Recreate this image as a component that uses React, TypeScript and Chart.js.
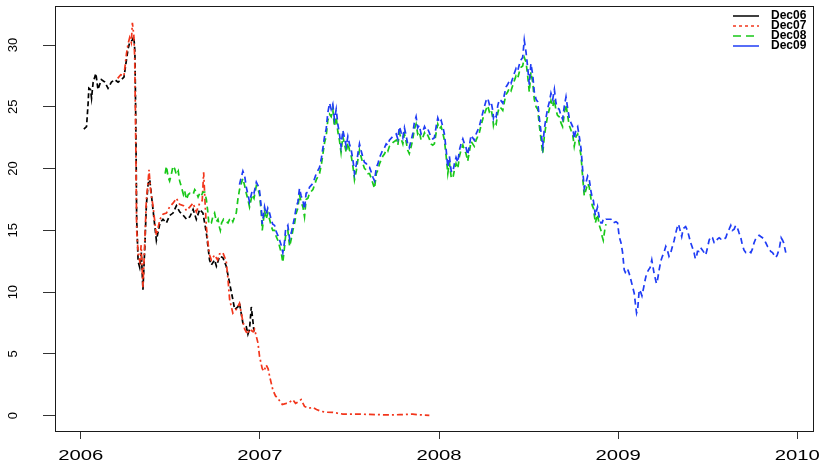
import React, { useEffect, useRef } from 'react';
import { Chart, registerables } from 'chart.js';

Chart.register(...registerables);

// [decimal year, price]
const dec06: number[][] = [
  [2006.017,23.2],[2006.032,23.4],[2006.041,25.3],[2006.045,26.5],[2006.054,26.4],[2006.060,25.7],[2006.069,27.0],[2006.084,27.7],[2006.096,26.4],[2006.115,27.2],[2006.134,27.0],[2006.152,26.5],[2006.171,27.0],[2006.190,27.2],[2006.208,27.0],[2006.227,27.2],[2006.241,27.4],[2006.255,28.8],[2006.264,29.7],[2006.273,30.2],[2006.288,30.4],[2006.296,30.7],[2006.302,29.5],[2006.307,24.0],[2006.312,16.0],[2006.320,12.5],[2006.329,12.0],[2006.338,13.2],[2006.347,10.2],[2006.357,13.5],[2006.366,17.0],[2006.376,18.8],[2006.385,19.1],[2006.403,16.7],[2006.422,14.2],[2006.442,15.6],[2006.459,15.9],[2006.478,15.6],[2006.496,16.2],[2006.515,16.4],[2006.534,17.0],[2006.552,16.5],[2006.573,16.2],[2006.590,15.9],[2006.609,16.1],[2006.627,16.7],[2006.645,15.9],[2006.664,16.7],[2006.682,16.4],[2006.701,14.8],[2006.710,13.7],[2006.719,12.6],[2006.729,12.2],[2006.747,12.6],[2006.757,12.1],[2006.775,12.9],[2006.793,12.8],[2006.812,12.1],[2006.831,10.7],[2006.849,9.4],[2006.859,8.6],[2006.877,8.8],[2006.886,9.1],[2006.905,7.5],[2006.924,7.2],[2006.933,6.6],[2006.942,7.0],[2006.952,8.8],[2006.962,7.5],[2006.967,6.8]
];

const dec07: number[][] = [
  [2006.206,27.3],[2006.223,27.6],[2006.241,27.5],[2006.255,29.3],[2006.264,30.1],[2006.273,30.6],[2006.282,30.2],[2006.288,31.8],[2006.296,30.8],[2006.301,29.0],[2006.307,22.0],[2006.312,15.0],[2006.321,13.0],[2006.329,12.5],[2006.337,13.8],[2006.347,10.4],[2006.357,14.0],[2006.366,17.5],[2006.373,18.5],[2006.381,19.9],[2006.390,18.2],[2006.403,17.0],[2006.422,14.6],[2006.442,15.9],[2006.459,16.3],[2006.478,16.4],[2006.496,16.9],[2006.515,17.2],[2006.534,17.6],[2006.552,17.1],[2006.573,17.0],[2006.590,16.6],[2006.609,16.9],[2006.627,17.2],[2006.645,16.5],[2006.664,17.2],[2006.678,17.4],[2006.686,19.7],[2006.694,17.2],[2006.701,15.3],[2006.710,14.0],[2006.719,13.0],[2006.729,12.6],[2006.747,13.0],[2006.764,12.6],[2006.775,13.1],[2006.793,13.2],[2006.812,12.5],[2006.822,11.0],[2006.831,9.4],[2006.849,8.3],[2006.868,8.6],[2006.886,9.1],[2006.905,7.6],[2006.915,7.0],[2006.931,6.6],[2006.942,7.0],[2006.962,6.8],[2006.970,7.0],[2006.989,5.9],[2006.998,4.8],[2007.013,3.8],[2007.023,3.6],[2007.035,4.1],[2007.046,3.8],[2007.054,3.2],[2007.072,2.1],[2007.087,1.6],[2007.100,1.4],[2007.125,0.9],[2007.147,1.0],[2007.166,1.1],[2007.184,1.3],[2007.199,1.0],[2007.211,1.1],[2007.230,1.3],[2007.249,0.75],[2007.271,0.6],[2007.296,0.67],[2007.316,0.5],[2007.342,0.35],[2007.372,0.28],[2007.407,0.27],[2007.433,0.2],[2007.463,0.13],[2007.500,0.12],[2007.556,0.13],[2007.612,0.1],[2007.668,0.08],[2007.723,0.06],[2007.779,0.08],[2007.818,0.1],[2007.853,0.13],[2007.891,0.07],[2007.946,0.03]
];

const dec08: number[][] = [
  [2006.471,19.6],[2006.478,20.2],[2006.488,19.3],[2006.496,19.0],[2006.505,19.5],[2006.515,20.2],[2006.524,20.0],[2006.534,19.5],[2006.544,19.8],[2006.552,19.0],[2006.562,18.5],[2006.573,17.9],[2006.580,18.2],[2006.590,17.5],[2006.600,17.9],[2006.609,18.0],[2006.627,17.9],[2006.636,18.3],[2006.645,18.1],[2006.655,17.7],[2006.664,18.0],[2006.673,17.8],[2006.682,18.1],[2006.692,18.1],[2006.701,17.5],[2006.710,16.4],[2006.715,15.5],[2006.729,15.6],[2006.737,16.1],[2006.747,16.4],[2006.757,15.7],[2006.766,15.9],[2006.775,15.2],[2006.779,15.0],[2006.786,15.6],[2006.797,15.9],[2006.812,15.7],[2006.822,15.6],[2006.831,15.9],[2006.840,16.0],[2006.849,15.7],[2006.859,16.1],[2006.868,16.4],[2006.877,17.5],[2006.886,18.3],[2006.896,18.8],[2006.905,19.2],[2006.915,18.6],[2006.924,18.0],[2006.933,17.5],[2006.942,16.9],[2006.957,17.9],[2006.967,17.6],[2006.980,18.6],[2006.990,18.3],[2006.998,17.9],
  [2007.008,16.4],[2007.013,15.0],[2007.026,16.6],[2007.035,15.9],[2007.044,16.4],[2007.054,15.9],[2007.064,15.3],[2007.072,15.0],[2007.082,15.0],[2007.091,14.5],[2007.100,14.2],[2007.110,13.7],[2007.119,13.2],[2007.128,12.4],[2007.137,13.6],[2007.143,14.5],[2007.156,15.0],[2007.166,13.7],[2007.175,14.3],[2007.184,15.0],[2007.194,15.6],[2007.203,16.4],[2007.212,16.8],[2007.221,17.9],[2007.230,17.3],[2007.240,16.9],[2007.249,16.1],[2007.258,17.5],[2007.268,17.6],[2007.277,18.0],[2007.296,18.3],[2007.315,19.1],[2007.333,19.6],[2007.344,20.4],[2007.361,22.1],[2007.370,22.6],[2007.379,23.9],[2007.389,24.4],[2007.398,24.2],[2007.407,24.8],[2007.416,23.4],[2007.426,24.2],[2007.435,23.0],[2007.444,22.3],[2007.453,21.3],[2007.463,22.6],[2007.472,22.0],[2007.482,21.3],[2007.491,22.1],[2007.500,21.5],[2007.510,21.0],[2007.517,20.4],[2007.522,19.9],[2007.528,19.1],[2007.538,19.8],[2007.547,20.7],[2007.556,21.5],[2007.566,20.9],[2007.575,20.4],[2007.584,20.0],[2007.594,19.9],[2007.603,19.6],[2007.612,19.6],[2007.622,19.2],[2007.631,18.8],[2007.640,18.4],[2007.650,19.6],[2007.659,19.9],[2007.668,20.4],[2007.677,20.7],[2007.686,21.0],[2007.696,21.2],[2007.705,21.5],[2007.714,21.4],[2007.723,21.8],[2007.742,22.1],[2007.761,22.3],[2007.770,21.9],[2007.779,22.9],[2007.789,22.4],[2007.798,22.0],[2007.807,22.8],[2007.816,22.2],[2007.825,21.5],[2007.834,21.2],[2007.843,21.7],[2007.853,22.3],[2007.862,23.2],[2007.872,23.6],[2007.881,22.8],[2007.890,23.0],[2007.900,22.3],[2007.909,22.5],[2007.919,22.9],[2007.928,22.6],[2007.937,22.7],[2007.946,22.4],[2007.956,22.0],[2007.965,21.9],[2007.974,22.0],[2007.984,22.9],[2007.993,23.6],
  [2008.002,23.2],[2008.012,23.4],[2008.021,22.9],[2008.030,22.3],[2008.040,21.0],[2008.049,19.6],[2008.058,20.5],[2008.068,19.3],[2008.077,19.2],[2008.086,19.9],[2008.095,20.4],[2008.105,20.0],[2008.114,21.0],[2008.123,21.5],[2008.133,21.9],[2008.142,21.5],[2008.151,21.2],[2008.160,20.6],[2008.170,21.4],[2008.179,22.2],[2008.188,22.0],[2008.197,21.8],[2008.207,22.3],[2008.216,22.6],[2008.225,22.9],[2008.235,23.5],[2008.244,24.0],[2008.253,24.4],[2008.263,24.8],[2008.272,25.1],[2008.281,24.6],[2008.291,24.8],[2008.300,24.1],[2008.304,23.5],[2008.309,23.8],[2008.319,23.6],[2008.328,24.5],[2008.337,25.0],[2008.346,24.9],[2008.356,24.7],[2008.365,25.4],[2008.374,26.0],[2008.383,26.2],[2008.393,26.5],[2008.402,26.3],[2008.411,26.7],[2008.420,27.1],[2008.430,27.5],[2008.439,27.3],[2008.448,27.8],[2008.458,28.2],[2008.467,28.3],[2008.476,29.0],[2008.486,28.6],[2008.495,27.5],[2008.504,26.2],[2008.513,27.8],[2008.523,27.0],[2008.532,25.6],[2008.542,25.0],[2008.551,24.8],[2008.560,23.5],[2008.570,22.3],[2008.579,21.2],[2008.588,22.6],[2008.597,23.5],[2008.607,24.3],[2008.616,24.8],[2008.625,25.5],[2008.635,25.0],[2008.644,25.6],[2008.653,24.7],[2008.662,24.3],[2008.671,24.2],[2008.681,23.7],[2008.690,23.4],[2008.700,24.5],[2008.709,25.2],[2008.718,24.3],[2008.727,23.5],[2008.737,23.1],[2008.746,22.8],[2008.755,21.8],[2008.765,22.6],[2008.774,22.8],[2008.783,22.0],[2008.793,21.0],[2008.802,19.3],[2008.811,17.8],[2008.821,18.3],[2008.830,18.8],[2008.839,18.5],[2008.848,17.6],[2008.856,17.0],[2008.862,16.8],[2008.873,15.6],[2008.885,16.3],[2008.895,15.4],[2008.904,15.0],[2008.911,14.5],[2008.917,14.2],[2008.925,15.0],[2008.932,15.5]
];

const dec09: number[][] = [
  [2006.886,18.7],[2006.896,19.3],[2006.905,19.8],[2006.915,19.4],[2006.924,18.5],[2006.933,17.9],[2006.942,17.3],[2006.957,18.2],[2006.967,18.0],[2006.980,18.9],[2006.990,18.6],[2006.998,18.2],
  [2007.008,16.8],[2007.013,15.5],[2007.026,16.9],[2007.035,16.3],[2007.044,16.8],[2007.054,16.4],[2007.064,15.8],[2007.072,15.5],[2007.082,15.4],[2007.091,14.9],[2007.100,14.6],[2007.110,14.2],[2007.119,13.8],[2007.128,13.2],[2007.137,14.0],[2007.143,15.0],[2007.156,15.4],[2007.166,14.3],[2007.175,14.8],[2007.184,15.4],[2007.194,16.1],[2007.203,16.9],[2007.212,17.3],[2007.221,18.4],[2007.230,17.8],[2007.240,17.4],[2007.249,16.7],[2007.258,18.0],[2007.268,18.1],[2007.277,18.5],[2007.296,18.8],[2007.315,19.6],[2007.333,20.1],[2007.344,20.9],[2007.361,22.6],[2007.370,23.2],[2007.379,24.5],[2007.389,25.3],[2007.398,24.8],[2007.407,25.2],[2007.416,24.0],[2007.426,24.8],[2007.435,23.6],[2007.444,22.8],[2007.453,21.8],[2007.463,23.1],[2007.472,22.5],[2007.482,21.8],[2007.491,22.6],[2007.500,22.0],[2007.510,21.5],[2007.517,20.9],[2007.522,20.4],[2007.528,19.6],[2007.538,20.3],[2007.547,21.2],[2007.556,22.0],[2007.566,21.4],[2007.575,20.9],[2007.584,20.5],[2007.594,20.4],[2007.603,20.1],[2007.612,20.1],[2007.622,19.7],[2007.631,19.3],[2007.640,19.0],[2007.650,20.1],[2007.659,20.4],[2007.668,20.9],[2007.677,21.2],[2007.686,21.5],[2007.696,21.7],[2007.705,22.0],[2007.714,21.9],[2007.723,22.3],[2007.742,22.6],[2007.761,22.8],[2007.770,22.4],[2007.779,23.4],[2007.789,22.9],[2007.798,22.5],[2007.807,23.3],[2007.816,22.7],[2007.825,22.0],[2007.834,21.7],[2007.843,22.2],[2007.853,22.8],[2007.862,23.7],[2007.872,24.2],[2007.881,23.3],[2007.890,23.5],[2007.900,22.8],[2007.909,23.0],[2007.919,23.4],[2007.928,23.1],[2007.937,23.2],[2007.946,22.9],[2007.956,22.5],[2007.965,22.4],[2007.974,22.5],[2007.984,23.4],[2007.993,24.1],
  [2008.002,23.7],[2008.012,23.9],[2008.021,23.4],[2008.030,22.8],[2008.040,21.5],[2008.049,20.1],[2008.058,21.0],[2008.068,19.8],[2008.077,19.7],[2008.086,20.4],[2008.095,20.9],[2008.105,20.5],[2008.114,21.5],[2008.123,22.0],[2008.133,22.4],[2008.142,22.0],[2008.151,21.7],[2008.160,21.1],[2008.170,21.9],[2008.179,22.7],[2008.188,22.5],[2008.197,22.3],[2008.207,22.8],[2008.216,23.1],[2008.225,23.4],[2008.235,24.0],[2008.244,24.5],[2008.253,25.0],[2008.263,25.5],[2008.272,25.7],[2008.281,25.2],[2008.291,25.4],[2008.300,24.7],[2008.304,24.1],[2008.309,24.4],[2008.319,24.2],[2008.328,25.1],[2008.337,25.6],[2008.346,25.5],[2008.356,25.3],[2008.365,26.0],[2008.374,26.6],[2008.383,26.8],[2008.393,27.1],[2008.402,26.9],[2008.411,27.3],[2008.420,27.7],[2008.430,28.1],[2008.439,27.9],[2008.448,28.4],[2008.458,28.8],[2008.467,29.0],[2008.476,30.4],[2008.486,29.4],[2008.495,28.2],[2008.504,26.8],[2008.513,28.5],[2008.523,27.6],[2008.532,26.2],[2008.542,25.6],[2008.551,25.4],[2008.560,24.1],[2008.570,22.9],[2008.579,21.8],[2008.588,23.2],[2008.597,24.1],[2008.607,24.9],[2008.616,25.4],[2008.625,26.1],[2008.635,25.6],[2008.644,26.4],[2008.653,25.3],[2008.662,24.9],[2008.671,24.8],[2008.681,24.3],[2008.690,24.0],[2008.700,25.1],[2008.709,25.8],[2008.718,24.9],[2008.727,24.1],[2008.737,23.7],[2008.746,23.4],[2008.755,22.4],[2008.765,23.2],[2008.774,23.4],[2008.783,22.6],[2008.793,21.6],[2008.802,19.9],[2008.811,18.4],[2008.821,18.9],[2008.830,19.4],[2008.839,19.1],[2008.848,18.2],[2008.856,17.6],[2008.862,17.4],[2008.873,16.2],[2008.885,16.9],[2008.895,16.0],[2008.904,15.6],[2008.911,15.6],[2008.917,15.9],[2008.925,15.8],[2008.932,15.9],[2008.941,15.9],[2008.960,15.9],[2008.973,15.6],[2008.988,15.7],[2008.997,15.6],
  [2009.006,14.5],[2009.016,14.0],[2009.025,13.2],[2009.034,11.8],[2009.040,11.6],[2009.052,11.9],[2009.062,11.5],[2009.071,11.0],[2009.080,10.5],[2009.090,9.9],[2009.097,9.0],[2009.103,8.3],[2009.109,8.6],[2009.118,10.2],[2009.126,10.0],[2009.133,9.7],[2009.143,10.4],[2009.151,11.0],[2009.159,11.5],[2009.170,11.8],[2009.179,12.0],[2009.188,12.6],[2009.195,12.0],[2009.201,11.5],[2009.214,10.7],[2009.220,11.0],[2009.229,11.8],[2009.238,12.5],[2009.247,12.9],[2009.256,13.2],[2009.266,13.7],[2009.275,13.4],[2009.284,12.9],[2009.294,13.2],[2009.303,13.7],[2009.313,14.2],[2009.322,14.8],[2009.329,15.2],[2009.337,15.5],[2009.346,15.0],[2009.355,14.5],[2009.363,15.1],[2009.368,15.2],[2009.377,15.3],[2009.387,15.0],[2009.396,14.5],[2009.405,14.0],[2009.415,13.6],[2009.424,13.2],[2009.431,12.7],[2009.437,12.8],[2009.443,13.3],[2009.452,13.3],[2009.461,13.6],[2009.471,13.4],[2009.480,13.2],[2009.489,13.0],[2009.499,13.6],[2009.508,14.2],[2009.517,14.5],[2009.527,14.4],[2009.536,14.0],[2009.545,14.0],[2009.555,14.3],[2009.564,14.4],[2009.573,14.3],[2009.582,14.4],[2009.592,14.3],[2009.601,14.4],[2009.610,14.8],[2009.620,15.1],[2009.629,15.4],[2009.638,15.0],[2009.648,15.1],[2009.656,15.4],[2009.666,15.2],[2009.675,14.8],[2009.685,14.4],[2009.694,13.8],[2009.703,13.4],[2009.713,13.2],[2009.722,13.2],[2009.731,13.3],[2009.741,13.2],[2009.750,13.5],[2009.759,14.0],[2009.768,14.3],[2009.778,14.5],[2009.787,14.6],[2009.796,14.5],[2009.806,14.4],[2009.815,14.3],[2009.824,14.0],[2009.834,13.7],[2009.843,13.5],[2009.852,13.3],[2009.862,13.2],[2009.871,13.0],[2009.880,12.8],[2009.888,13.0],[2009.895,13.3],[2009.902,13.7],[2009.910,14.4],[2009.918,14.2],[2009.924,14.0],[2009.930,13.6],[2009.936,13.2]
];

const seriesNames = ['Dec06', 'Dec07', 'Dec08', 'Dec09'];
const seriesColors = ['#000000', '#f2361c', '#19c819', '#1f3cf5'];
const xTickYears = [2006, 2007, 2008, 2009, 2010];
const yTickValues = [0, 5, 10, 15, 20, 25, 30];

const FONT = '"Liberation Sans", Arial, Helvetica, sans-serif';

const rStylePlugin = {
  id: 'rStyle',
  afterDraw(chart: any) {
    const { ctx, chartArea: a, scales } = chart;
    ctx.save();
    // box
    ctx.strokeStyle = '#1a1a1a';
    ctx.lineWidth = 1;
    ctx.setLineDash([]);
    ctx.strokeRect(Math.round(a.left) + 0.5, Math.round(a.top) + 0.5, Math.round(a.right - a.left), Math.round(a.bottom - a.top));
    // x tick labels
    ctx.fillStyle = '#000';
    ctx.font = `14px ${FONT}`;
    ctx.textAlign = 'center';
    ctx.textBaseline = 'middle';
    for (const v of xTickYears) {
      const px = scales.x.getPixelForValue(v);
      ctx.save();
      ctx.translate(px, 456);
      ctx.scale(1.45, 1);
      ctx.fillText(String(v), 0, 0);
      ctx.restore();
    }
    // y tick labels (rotated, R style)
    ctx.font = `13px ${FONT}`;
    for (const v of yTickValues) {
      const py = scales.y.getPixelForValue(v);
      ctx.save();
      ctx.translate(13, py);
      ctx.rotate(-Math.PI / 2);
      ctx.fillText(String(v), 0, 0);
      ctx.restore();
    }
    // legend
    const legendDash = [[], [3, 3], [8, 5], []];
    ctx.font = `bold 12px ${FONT}`;
    ctx.textAlign = 'left';
    seriesNames.forEach((name, i) => {
      const y = 16 + i * 10;
      ctx.strokeStyle = seriesColors[i];
      ctx.lineWidth = 1.5;
      ctx.setLineDash(legendDash[i]);
      ctx.beginPath();
      ctx.moveTo(733, y);
      ctx.lineTo(759, y);
      ctx.stroke();
      ctx.setLineDash([]);
      ctx.fillStyle = '#000';
      ctx.fillText(name, 771, y);
    });
    ctx.restore();
  },
};

export default function App() {
  const canvasRef = useRef<HTMLCanvasElement | null>(null);

  useEffect(() => {
    if (!canvasRef.current) return;
    const allSeries = [dec06, dec07, dec08, dec09];
    const dashes = [[5, 3], [6, 3, 2, 3], [6, 4], [6, 4]];
    const chart = new Chart(canvasRef.current, {
      type: 'line',
      data: {
        datasets: allSeries.map((s, i) => ({
          label: seriesNames[i],
          data: s.map(([x, y]) => ({ x, y })),
          borderColor: seriesColors[i],
          borderWidth: 1.7,
          borderDash: dashes[i],
          pointRadius: 0,
          tension: 0,
          fill: false,
          order: 4 - i,
        })),
      },
      options: {
        responsive: false,
        animation: false,
        events: [],
        layout: { padding: { top: 6, right: 7, left: 0, bottom: 0 } },
        plugins: { legend: { display: false }, tooltip: { enabled: false } },
        scales: {
          x: {
            type: 'linear',
            min: 2005.856,
            max: 2010.088,
            afterBuildTicks: (scale: any) => {
              scale.ticks = xTickYears.map((v) => ({ value: v }));
            },
            afterFit: (scale: any) => {
              scale.height = 33;
            },
            ticks: { display: false },
            grid: { display: true, drawOnChartArea: false, drawTicks: true, tickLength: 8, color: '#333' },
            border: { display: false },
          },
          y: {
            type: 'linear',
            min: -1.24,
            max: 33.16,
            afterBuildTicks: (scale: any) => {
              scale.ticks = yTickValues.map((v) => ({ value: v }));
            },
            afterFit: (scale: any) => {
              scale.width = 55;
            },
            ticks: { display: false },
            grid: { display: true, drawOnChartArea: false, drawTicks: true, tickLength: 12, color: '#333' },
            border: { display: false },
          },
        },
      },
      plugins: [rStylePlugin],
    });
    return () => chart.destroy();
  }, []);

  return (
    <div style={{ position: 'absolute', left: 0, top: 0, width: 820, height: 464, background: '#fff' }}>
      <canvas ref={canvasRef} width={820} height={464} />
    </div>
  );
}
